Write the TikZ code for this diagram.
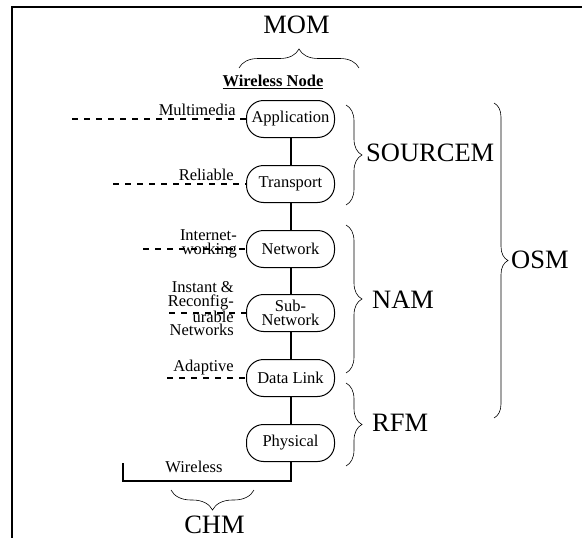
\documentclass[tikz,border=0pt]{standalone}
\usepackage{fontspec}
\setmainfont{Liberation Serif}
\usetikzlibrary{decorations.pathreplacing}
\newcommand\smalltxt{\fontsize{16.5}{13.5}\selectfont}
\newcommand\bigtxt{\fontsize{26.5}{28}\selectfont}
\tikzset{
  layer/.style={draw, line width=1pt, rounded corners=17pt, minimum width=88pt, minimum height=37pt, inner sep=0pt, align=center, font=\smalltxt},
  stackline/.style={line width=2pt},
  dashline/.style={line width=1.4pt, dash pattern=on 6pt off 6pt},
  bracket/.style={decorate, decoration={brace, amplitude=#1}, line width=0.6pt},
  side/.style={font=\smalltxt, align=right, anchor=east, inner sep=0pt},
  model/.style={font=\bigtxt, inner sep=0pt}
}
\begin{document}
\begin{tikzpicture}
\useasboundingbox (0pt,0pt) rectangle (582pt,-538pt);
\draw[line width=1.1pt] (12pt,-538pt) -- (12pt,-7pt) -- (582pt,-7pt);
% protocol stack
\node[layer] (app) at (290.5pt,-119pt) {Application};
\node[layer] (trans) at (290.5pt,-184pt) {Transport};
\node[layer] (net) at (290.5pt,-249pt) {Network};
\node[layer] (subnet) at (290.5pt,-313pt) {Sub-\\Network};
\node[layer] (dlink) at (290.5pt,-378pt) {Data Link};
\node[layer] (phys) at (290.5pt,-443pt) {Physical};
\draw[stackline] (app) -- (trans) -- (net) -- (subnet) -- (dlink) -- (phys);
\coordinate (base) at (123pt,-481pt);
\coordinate (air) at (123pt,-463pt);
\draw[stackline] (phys.south) |- (base) -- (air);
\node[font=\smalltxt, inner sep=0pt] (wlabel) at (194pt,-467pt) {Wireless};
\node[font=\smalltxt\bfseries, inner sep=0pt] (wnode) at (273pt,-82pt) {\underline{Wireless Node}};
% dashed feeds
\coordinate (mmend) at (72pt,-119pt);
\coordinate (relend) at (113pt,-184pt);
\coordinate (inetend) at (143pt,-249pt);
\coordinate (instend) at (169pt,-313pt);
\coordinate (adapend) at (167pt,-378pt);
\draw[dashline] (mmend) -- (app.west);
\draw[dashline] (relend) -- (trans.west);
\draw[dashline] (inetend) -- (net.west);
\draw[dashline] (instend) -- (subnet.west);
\draw[dashline] (adapend) -- (dlink.west);
\node[side] (mmlab) at (236pt,-110pt) {Multimedia};
\node[side] (rellab) at (234pt,-175pt) {Reliable};
\node[side] (inetlab) at (237pt,-244pt) {Internet-\\working};
\node[side] (instlab) at (234pt,-309pt) {Instant \&\\Reconfig-\\urable\\Networks};
\node[side] (adaplab) at (234pt,-368pt) {Adaptive};
% braces
\draw[bracket=19pt] (239pt,-68pt) -- (359pt,-68pt);
\draw[bracket=16pt] (346pt,-105pt) -- (346pt,-205pt);
\draw[bracket=16pt] (346pt,-225pt) -- (346pt,-373pt);
\draw[bracket=16pt] (346pt,-383pt) -- (346pt,-466pt);
\draw[bracket=14pt] (494pt,-103pt) -- (494pt,-418pt);
\draw[bracket=20pt] (254pt,-490pt) -- (171pt,-490pt);
\node[model] (mom) at (296.5pt,-25pt) {MOM};
\node[model, anchor=west] (sourcem) at (366pt,-153pt) {SOURCEM};
\node[model, anchor=west] (nam) at (372pt,-300pt) {NAM};
\node[model, anchor=west] (rfm) at (372pt,-423pt) {RFM};
\node[model, anchor=west] (osm) at (511pt,-260pt) {OSM};
\node[model] (chm) at (214.5pt,-525pt) {CHM};
\end{tikzpicture}
\end{document}
